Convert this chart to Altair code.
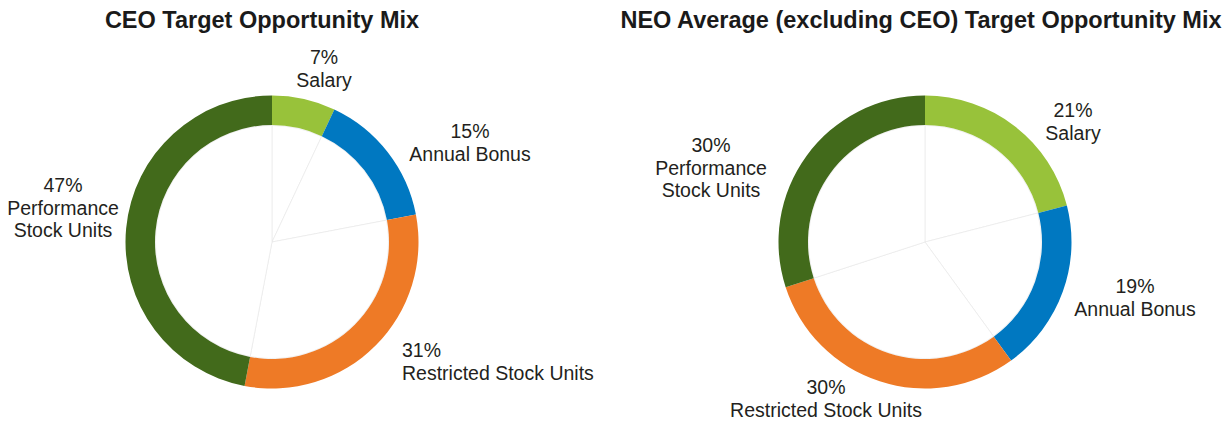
import altair as alt
import pandas as pd

# ---- data ----
categories = ["Salary", "Annual Bonus", "Restricted Stock Units", "Performance Stock Units"]
ceo_values = [7, 15, 31, 47]
neo_values = [21, 19, 30, 30]
panels = ["CEO", "NEO"]
titles = ["CEO Target Opportunity Mix", "NEO Average (excluding CEO) Target Opportunity Mix"]
colors = ["#98C23A", "#0078C1", "#EE7A26", "#426A1B"]

# ---- layout (chart pixel coordinates) ----
W, H = 1216, 412
centers = {"CEO": (264, 234), "NEO": (917, 234)}
title_pos = {"CEO": (254, 20), "NEO": (913, 20)}
LH = 22.5
# label anchor: x, first baseline y, align, line split of the category name
label_layout = {
    ("CEO", "Salary"): (316, 56, "center", ["Salary"]),
    ("CEO", "Annual Bonus"): (462, 130, "center", ["Annual Bonus"]),
    ("CEO", "Restricted Stock Units"): (394, 349, "left", ["Restricted Stock Units"]),
    ("CEO", "Performance Stock Units"): (55, 184, "center", ["Performance", "Stock Units"]),
    ("NEO", "Salary"): (1065, 109, "center", ["Salary"]),
    ("NEO", "Annual Bonus"): (1127, 285, "center", ["Annual Bonus"]),
    ("NEO", "Restricted Stock Units"): (818, 386, "center", ["Restricted Stock Units"]),
    ("NEO", "Performance Stock Units"): (703, 144, "center", ["Performance", "Stock Units"]),
}

rows = []
for p, vals in zip(panels, [ceo_values, neo_values]):
    for i, (c, v) in enumerate(zip(categories, vals)):
        rows.append({"panel": p, "category": c, "value": v, "order": i})
df = pd.DataFrame(rows)

lab_rows = []
for r in rows:
    x, y, align, lines = label_layout[(r["panel"], r["category"])]
    texts = [f"{r['value']}%"] + lines
    for k, t in enumerate(texts):
        lab_rows.append({"x": x, "y": y + k * LH, "text": t, "align": align})
labels = pd.DataFrame(lab_rows)

title_df = pd.DataFrame([
    {"x": title_pos[p][0], "y": title_pos[p][1], "text": t} for p, t in zip(panels, titles)
])

FONT = "Liberation Sans, Arial, Helvetica, sans-serif"
layers = []
for p in panels:
    cx, cy = centers[p]
    base = alt.Chart(df).transform_filter(alt.datum.panel == p)
    pie = base.mark_arc(outerRadius=116.5, innerRadius=0, fill="white",
                        stroke="#e6e6e6", strokeWidth=0.6).encode(
        theta=alt.Theta("value:Q", stack=True),
        order=alt.Order("order:Q"),
        x=alt.value(cx), y=alt.value(cy),
    )
    ring = base.mark_arc(outerRadius=146.5, innerRadius=117).encode(
        theta=alt.Theta("value:Q", stack=True),
        order=alt.Order("order:Q"),
        color=alt.Color("category:N", scale=alt.Scale(domain=categories, range=colors), legend=None),
        x=alt.value(cx), y=alt.value(cy),
    )
    layers += [pie, ring]

for al in ["center", "left"]:
    t = alt.Chart(labels).transform_filter(alt.datum.align == al).mark_text(
        align=al, baseline="alphabetic", font=FONT, fontSize=19.5, color="#231F20"
    ).encode(
        x=alt.X("x:Q", scale=None, axis=None),
        y=alt.Y("y:Q", scale=None, axis=None),
        text="text:N",
    )
    layers.append(t)

title_layer = alt.Chart(title_df).mark_text(
    align="center", baseline="alphabetic", font=FONT, fontSize=23.5, fontWeight="bold", color="#1a1a1a"
).encode(
    x=alt.X("x:Q", scale=None, axis=None),
    y=alt.Y("y:Q", scale=None, axis=None),
    text="text:N",
)
layers.append(title_layer)

chart = alt.layer(*layers).properties(
    width=W, height=H, autosize=alt.AutoSizeParams(type="none"), padding=0
).configure(background="white").configure_view(stroke=None)

chart.save("out.html", embed_options={"renderer": "svg", "actions": False})
